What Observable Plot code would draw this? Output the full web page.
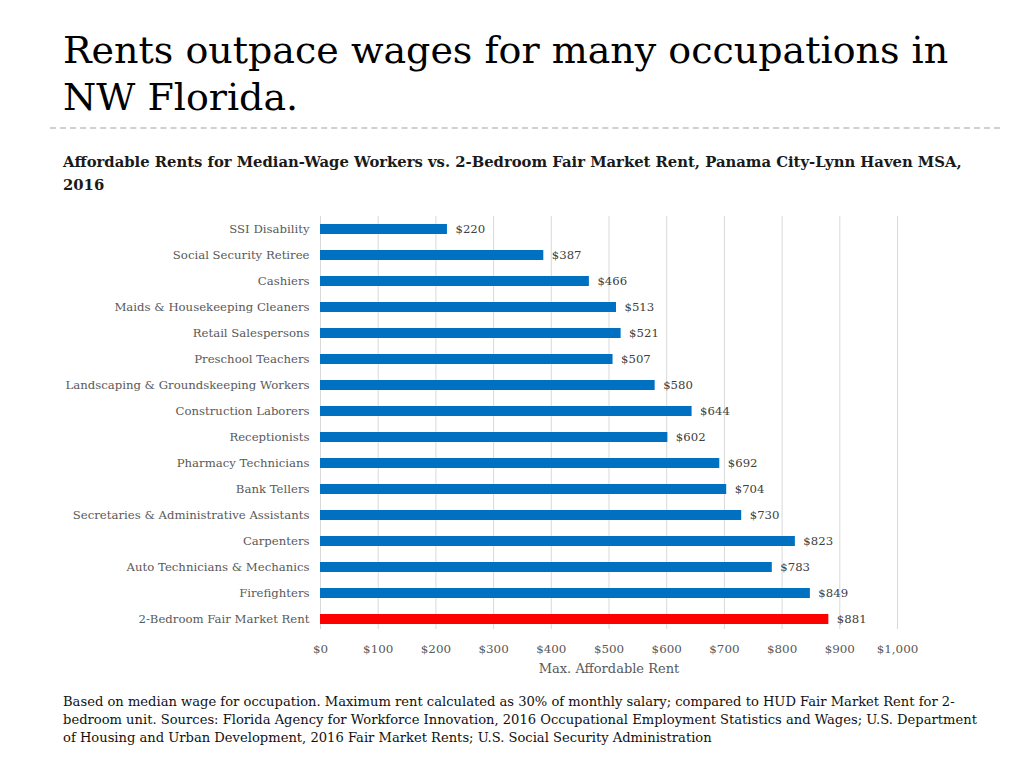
<!DOCTYPE html>
<html>
<head>
<meta charset="utf-8">
<script src="https://cdn.jsdelivr.net/npm/d3@7"></script>
<script src="https://cdn.jsdelivr.net/npm/@observablehq/plot@0.6"></script>
<style>
  html, body { margin: 0; padding: 0; background: #fff; }
  body { width: 1024px; height: 768px; position: relative; overflow: hidden; font-family: "DejaVu Serif", serif; }
  #title { position: absolute; left: 63px; top: 27px; width: 900px; font-family: "DejaVu Serif", serif; font-size: 38px; line-height: 47px; color: #000; }
  #rule { position: absolute; left: 50px; top: 127px; width: 950px; border-top: 2px dashed #d0d0d0; }
  #subtitle { position: absolute; left: 63px; top: 150px; width: 912px; font-family: "DejaVu Serif", serif; font-weight: bold; font-size: 14.8px; line-height: 23px; color: #1a1a1a; }
  #chart { position: absolute; left: 0; top: 205px; }
  #caption { position: absolute; left: 63px; top: 693px; width: 915px; font-family: "DejaVu Serif", serif; font-size: 13.1px; line-height: 18px; color: #111; }
</style>
</head>
<body>
<div id="title">Rents outpace wages for many occupations in NW Florida.</div>
<div id="rule"></div>
<div id="subtitle">Affordable Rents for Median-Wage Workers vs. 2-Bedroom Fair Market Rent, Panama City-Lynn Haven MSA, 2016</div>
<div id="chart"></div>
<div id="caption">Based on median wage for occupation. Maximum rent calculated as 30% of monthly salary; compared to HUD Fair Market Rent for 2-bedroom unit. Sources: Florida Agency for Workforce Innovation, 2016 Occupational Employment Statistics and Wages; U.S. Department of Housing and Urban Development, 2016 Fair Market Rents; U.S. Social Security Administration</div>
<script>
const categories = [
  "SSI Disability",
  "Social Security Retiree",
  "Cashiers",
  "Maids & Housekeeping Cleaners",
  "Retail Salespersons",
  "Preschool Teachers",
  "Landscaping & Groundskeeping Workers",
  "Construction Laborers",
  "Receptionists",
  "Pharmacy Technicians",
  "Bank Tellers",
  "Secretaries & Administrative Assistants",
  "Carpenters",
  "Auto Technicians & Mechanics",
  "Firefighters",
  "2-Bedroom Fair Market Rent"
];
const rents = [220, 387, 466, 513, 521, 507, 580, 644, 602, 692, 704, 730, 823, 783, 849, 881];
const xTicks = [0, 100, 200, 300, 400, 500, 600, 700, 800, 900, 1000];
const xLabel = "Max. Affordable Rent";
const highlight = "2-Bedroom Fair Market Rent";

const data = categories.map((c, i) => ({category: c, rent: rents[i]}));
const fmt = d => "$" + d3.format(",")(d);

const chart = Plot.plot({
  width: 1024,
  height: 480,
  marginLeft: 320,
  marginRight: 127,
  marginTop: 11,
  marginBottom: 53,
  style: {fontFamily: "DejaVu Serif, serif", fontSize: "11.7px", color: "#595959", background: "transparent"},
  x: {domain: [0, 1000], ticks: xTicks, tickFormat: fmt, label: null},
  y: {domain: categories, paddingInner: 0.6, paddingOuter: 0.3, label: null},
  color: {domain: [false, true], range: ["#0070C0", "#FF0000"]},
  marks: [
    Plot.gridX(xTicks, {stroke: "#d9d9d9", strokeOpacity: 1, strokeWidth: 1, insetBottom: 3}),
    Plot.barX(data, {y: "category", x: "rent", fill: d => d.category === highlight}),
    Plot.text(data, {y: "category", x: "rent", text: d => fmt(d.rent), dx: 8, textAnchor: "start", fill: "#404040", fontSize: 11.7}),
    Plot.axisY({tickSize: 0, tickPadding: 11, fill: "#595959", fontSize: 11.7}),
    Plot.axisX({ticks: xTicks, tickFormat: fmt, tickSize: 0, tickPadding: 12, fill: "#595959", fontSize: 11.9, label: null}),
    Plot.text([xLabel], {frameAnchor: "bottom", dy: 40, text: d => d, fill: "#595959", fontSize: 13})
  ]
});
document.getElementById("chart").appendChild(chart);
</script>
</body>
</html>
